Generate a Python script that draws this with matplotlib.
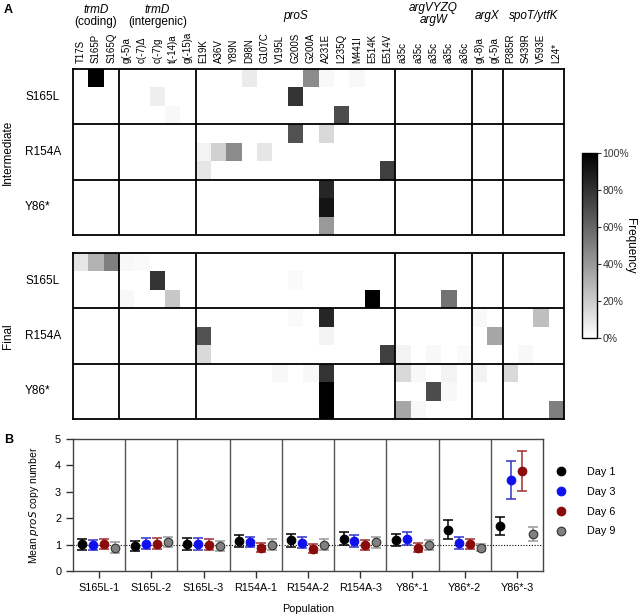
import numpy as np
import matplotlib
matplotlib.use("Agg")
import matplotlib.pyplot as plt
from matplotlib.colors import LinearSegmentedColormap

plt.rcParams['font.family'] = ['Liberation Sans', 'DejaVu Sans']

# ---- panel A data ----
mutations = ["T17S", "S165P", "S165Q",
             "g(-5)a", "c(-7)Δ", "c(-7)g", "t(-14)a", "g(-15)a",
             "E19K", "A36V", "Y89N", "D98N", "G107C", "V195L", "G200S", "G200A",
             "A231E", "L235Q", "M441I", "E514K", "E514V",
             "a35c", "a35c", "a35c", "a35c", "a36c",
             "g(-8)a", "g(-5)a",
             "P385R", "S439R", "V593E", "L24*"]
gene_groups = [("trmD", "(coding)", 3), ("trmD", "(intergenic)", 5), ("proS", "", 13),
               ("argVYZQ", "argW", 5), ("argX", "", 2), ("spoT/ytfK", "", 4)]
lineages = ["S165L", "R154A", "Y86*"]

# frequency (%) per population row (3 populations per lineage), {mutation index: freq}
intermediate = [
    {1: 100, 11: 8, 15: 45, 16: 3, 18: 3},
    {5: 7, 14: 80},
    {6: 3, 17: 70},
    {14: 68, 16: 15},
    {8: 5, 9: 18, 10: 45, 12: 10},
    {8: 10, 20: 75},
    {16: 85},
    {16: 92},
    {16: 40},
]
final = [
    {0: 10, 1: 30, 2: 50, 3: 3, 4: 2},
    {5: 80, 14: 2},
    {3: 3, 6: 22, 19: 100, 24: 55},
    {14: 2, 16: 85, 26: 3, 30: 25},
    {8: 68, 16: 5, 27: 35},
    {8: 15, 20: 75, 21: 5, 23: 3, 25: 2, 29: 3},
    {13: 3, 15: 3, 16: 80, 21: 15, 22: 3, 24: 5, 26: 5, 28: 15},
    {16: 100, 23: 70, 24: 3},
    {16: 100, 21: 35, 22: 3, 31: 50},
]

# ---- panel B data ----
populations = ["S165L-1", "S165L-2", "S165L-3", "R154A-1", "R154A-2", "R154A-3",
               "Y86*-1", "Y86*-2", "Y86*-3"]
days = ["Day 1", "Day 3", "Day 6", "Day 9"]
day1 = [1.02, 0.94, 1.02, 1.14, 1.17, 1.22, 1.17, 1.57, 1.70]
day3 = [0.98, 1.04, 1.02, 1.10, 1.07, 1.14, 1.23, 1.07, 3.45]
day6 = [1.02, 1.04, 1.00, 0.89, 0.85, 0.98, 0.89, 1.02, 3.79]
day9 = [0.89, 1.10, 0.95, 1.00, 1.00, 1.08, 0.98, 0.89, 1.40]
err1 = [0.21, 0.20, 0.22, 0.22, 0.25, 0.25, 0.22, 0.35, 0.35]
err3 = [0.20, 0.22, 0.22, 0.20, 0.20, 0.22, 0.25, 0.22, 0.72]
err6 = [0.20, 0.20, 0.20, 0.18, 0.18, 0.18, 0.18, 0.20, 0.76]
err9 = [0.20, 0.20, 0.20, 0.20, 0.20, 0.20, 0.20, 0.15, 0.25]

W, H = 642, 615
fig = plt.figure(figsize=(W / 100, H / 100), dpi=100)


def px_axes(x0, y0, x1, y1):
    return fig.add_axes([x0 / W, 1 - y1 / H, (x1 - x0) / W, (y1 - y0) / H])


cmap = LinearSegmentedColormap.from_list("wk", ["white", "black"])
ncol = len(mutations)
seps_x = np.cumsum([g[2] for g in gene_groups])[:-1]


def heat(ax, rows):
    mat = np.zeros((9, ncol))
    for r, d in enumerate(rows):
        for c, v in d.items():
            mat[r, c] = v
    ax.pcolormesh(np.arange(ncol + 1), np.arange(10), mat, cmap=cmap, vmin=0, vmax=100)
    ax.set_xlim(0, ncol)
    ax.set_ylim(9, 0)
    for x in seps_x:
        ax.axvline(x, color='black', lw=1.3)
    for y in (3, 6):
        ax.axhline(y, color='black', lw=1.3)
    for s in ax.spines.values():
        s.set_linewidth(1.3)
    ax.set_xticks([])
    ax.set_yticks([])
    for i, name in enumerate(lineages):
        ax.text(-48 / 15.35, 3 * i + 1.5, name, ha='left', va='center', fontsize=8.5)
    return mat


ax1 = px_axes(73, 69, 564, 235)
heat(ax1, intermediate)
ax2 = px_axes(73, 253, 564, 419)
heat(ax2, final)

# column labels and gene labels
for i, m in enumerate(mutations):
    ax1.text(i + 0.5, -0.3, m, rotation=90, ha='center', va='bottom', fontsize=7)
start = 0
for top, bottom, n in gene_groups:
    cx = start + n / 2
    if bottom == "":
        ax1.text(cx, -2.85, top, ha='center', va='center', fontsize=8.5, style='italic')
    elif bottom.startswith("("):
        ax1.text(cx, -3.2, top, ha='center', va='center', fontsize=8.5, style='italic')
        ax1.text(cx, -2.55, bottom, ha='center', va='center', fontsize=8.5)
    else:
        ax1.text(cx, -3.3, top, ha='center', va='center', fontsize=8.5, style='italic')
        ax1.text(cx, -2.65, bottom, ha='center', va='center', fontsize=8.5, style='italic')
    start += n

fig.text(8 / W, 1 - 152 / H, "Intermediate", rotation=90, ha='center', va='center', fontsize=8.5)
fig.text(8 / W, 1 - 336 / H, "Final", rotation=90, ha='center', va='center', fontsize=8.5)
fig.text(4 / W, 1 - 10 / H, "A", fontsize=9, fontweight='bold', ha='left', va='center')
fig.text(4 / W, 1 - 440 / H, "B", fontsize=9, fontweight='bold', ha='left', va='center')

# colorbar
cax = px_axes(582, 153, 597, 338)
sm = plt.cm.ScalarMappable(cmap=cmap, norm=plt.Normalize(0, 100))
cb = fig.colorbar(sm, cax=cax)
cb.set_ticks([0, 20, 40, 60, 80, 100])
cb.set_ticklabels(["0%", "20%", "40%", "60%", "80%", "100%"])
cb.ax.tick_params(labelsize=7.5, length=3, width=0.8, pad=1, colors='#333333')
cb.outline.set_linewidth(1.0)
cb.set_label("Frequency", rotation=270, fontsize=8.5, labelpad=5)

# ---- panel B ----
axb = px_axes(73, 439, 543, 571)
x = np.arange(len(populations))
series = [(day1, err1, 'black', 'black', 'black'),
          (day3, err3, '#1010ee', '#1010ee', '#3333cc'),
          (day6, err6, '#8b0a0a', '#8b0a0a', '#a03030'),
          (day9, err9, '#808080', '#333333', '#999999')]
offsets = [-0.32, -0.11, 0.1, 0.31]
for (vals, errs, fc, ec, errc), off, lab in zip(series, offsets, days):
    axb.errorbar(x + off, vals, yerr=errs, fmt='none', ecolor=errc, elinewidth=1.1,
                 capsize=3.5, capthick=1.1, zorder=2)
    axb.plot(x + off, vals, 'o', ms=6.2, mfc=fc, mec=ec, mew=0.8, ls='none', label=lab, zorder=3)
axb.axhline(1, color='black', ls=(0, (1, 1.5)), lw=0.8, zorder=1)
for i in range(1, len(populations)):
    axb.axvline(i - 0.5, color='#555555', lw=1.0)
axb.set_xlim(-0.5, len(populations) - 0.5)
axb.set_ylim(0, 5)
axb.set_yticks([0, 1, 2, 3, 4, 5])
axb.set_xticks(x)
axb.set_xticklabels(populations)
axb.tick_params(labelsize=7.8, length=5, width=1.0, colors='#333333', labelcolor='black')
for s in axb.spines.values():
    s.set_linewidth(1.0)
    s.set_color('#444444')
axb.set_xlabel("Population", fontsize=7.8, labelpad=8)
axb.set_ylabel("Mean $\\it{proS}$ copy number", fontsize=7.5, labelpad=10)
axb.legend(loc='upper left', bbox_to_anchor=(1.005, 0.86), frameon=False, fontsize=7.8,
           handletextpad=1.9, labelspacing=0.9, handlelength=1.0)

fig.savefig("out.png", dpi=100)
